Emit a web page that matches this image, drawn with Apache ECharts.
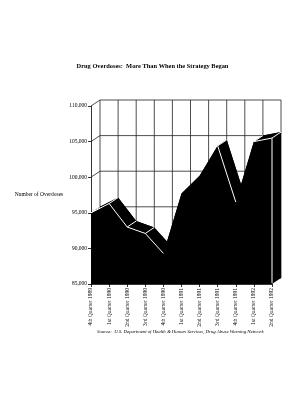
<!DOCTYPE html>
<html>
<head>
<meta charset="utf-8">
<script src="https://cdn.jsdelivr.net/npm/echarts@6/dist/echarts.min.js"></script>
<style>
  html, body { margin: 0; padding: 0; background: #fff; }
  #main { width: 305px; height: 400px; }
</style>
</head>
<body>
<div id="main"></div>
<script>
const categories = ['4th Quarter 1989', '1st Quarter 1990', '2nd Quarter 1990', '3rd Quarter 1990',
  '4th Quarter 1990', '1st Quarter 1991', '2nd Quarter 1991', '3rd Quarter 1991',
  '4th Quarter 1991', '1st Quarter 1992', '2nd Quarter 1992'];
const overdoses = [95000, 96300, 93000, 92100, 89300, 97700, 100200, 104400, 96500, 105000, 105500];
const yTicks = [85000, 90000, 95000, 100000, 105000, 110000];

const yMin = yTicks[0];
const yMax = yTicks[yTicks.length - 1];
const depth = [9, -6]; // fake 3d offset of the back wall, px
const font = 'Liberation Serif';

var myChart = echarts.init(document.getElementById('main'));

function shift(p) {
  return [p[0] + depth[0], p[1] + depth[1]];
}

// a ribbon face is visible when it faces up toward the viewer
function faceVisible(api, i) {
  const a = api.coord([i, overdoses[i]]);
  const b = api.coord([i + 1, overdoses[i + 1]]);
  const sx = b[0] - a[0], sy = b[1] - a[1];
  return sx * depth[1] - sy * depth[0] < 0;
}

function renderWalls(params, api) {
  const children = [];
  const last = categories.length - 1;
  const st = { stroke: '#222', lineWidth: 0.8 };
  yTicks.forEach(v => {
    const a = api.coord([0, v]);
    const b = api.coord([last, v]);
    const a2 = shift(a), b2 = shift(b);
    children.push({ type: 'line', shape: { x1: a[0], y1: a[1], x2: a2[0], y2: a2[1] }, style: st });
    children.push({ type: 'line', shape: { x1: a2[0], y1: a2[1], x2: b2[0], y2: b2[1] }, style: st });
  });
  categories.forEach((c, i) => {
    const a = shift(api.coord([i, yMin]));
    const b = shift(api.coord([i, yMax]));
    children.push({ type: 'line', shape: { x1: a[0], y1: a[1], x2: b[0], y2: b[1] }, style: st });
  });
  return { type: 'group', children };
}

function renderRibbon(params, api) {
  const children = [];
  const last = categories.length - 1;
  const back = [shift(api.coord([0, yMin]))];
  overdoses.forEach((v, i) => back.push(shift(api.coord([i, v]))));
  back.push(shift(api.coord([last, yMin])));
  children.push({ type: 'polygon', shape: { points: back }, style: { fill: '#000' } });
  for (let i = 0; i < last; i++) {
    const a = api.coord([i, overdoses[i]]);
    const b = api.coord([i + 1, overdoses[i + 1]]);
    children.push({ type: 'polygon', shape: { points: [a, b, shift(b), shift(a)] }, style: { fill: '#000' } });
  }
  const t = api.coord([last, overdoses[last]]);
  const f = api.coord([last, yMin]);
  children.push({ type: 'polygon', shape: { points: [t, shift(t), shift(f), f] }, style: { fill: '#000' } });
  return { type: 'group', children };
}

function renderEdges(params, api) {
  const children = [];
  const last = categories.length - 1;
  const st = { stroke: '#fff', lineWidth: 1 };
  for (let i = 0; i < last; i++) {
    if (!faceVisible(api, i)) continue;
    const a = api.coord([i, overdoses[i]]);
    const b = api.coord([i + 1, overdoses[i + 1]]);
    const a2 = shift(a);
    children.push({ type: 'line', shape: { x1: a[0], y1: a[1], x2: b[0], y2: b[1] }, style: st });
    children.push({ type: 'line', shape: { x1: a[0], y1: a[1], x2: a2[0], y2: a2[1] }, style: st });
  }
  const t = api.coord([last, overdoses[last]]);
  const t2 = shift(t);
  const f = api.coord([last, yMin]);
  children.push({ type: 'line', shape: { x1: t[0], y1: t[1], x2: t2[0], y2: t2[1] }, style: st });
  children.push({ type: 'line', shape: { x1: t[0], y1: t[1], x2: f[0], y2: f[1] - 1 }, style: st });
  return { type: 'group', children };
}

var option = {
  backgroundColor: '#fff',
  animation: false,
  title: {
    text: 'Drug Overdoses:  More Than When the Strategy Began',
    left: 'center',
    top: 58,
    textStyle: { fontFamily: font, fontSize: 6.4, fontWeight: 'bold', color: '#000' }
  },
  grid: { left: 91, right: 33, top: 106, bottom: 116 },
  xAxis: {
    type: 'category',
    data: categories,
    boundaryGap: false,
    axisLine: { lineStyle: { color: '#000', width: 0.8 } },
    axisTick: { show: true, length: 3, lineStyle: { color: '#000', width: 0.8 } },
    axisLabel: { rotate: 90, interval: 0, margin: 4, fontFamily: font, fontSize: 5.5, color: '#000' },
    splitLine: { show: false }
  },
  yAxis: {
    type: 'value',
    min: yMin,
    max: yMax,
    interval: 5000,
    name: 'Number of Overdoses',
    nameLocation: 'middle',
    nameRotate: 0,
    nameGap: 26,
    nameTextStyle: { fontFamily: font, fontSize: 5.5, color: '#000', align: 'right' },
    axisLine: { show: true, lineStyle: { color: '#000', width: 0.8 } },
    axisTick: { show: true, length: 3, lineStyle: { color: '#000', width: 0.8 } },
    axisLabel: {
      margin: 4, fontFamily: font, fontSize: 5.5, color: '#000',
      formatter: v => v.toLocaleString('en-US')
    },
    splitLine: { show: false }
  },
  graphic: [{
    type: 'text',
    left: 97,
    top: 329,
    style: {
      text: 'Source:  U.S. Department of Health & Human Services, Drug Abuse Warning Network',
      font: 'italic 4.8px "Liberation Serif"',
      fill: '#000'
    }
  }],
  series: [
    { type: 'custom', renderItem: renderWalls, data: [[0, yMin]], z: 1, silent: true },
    { type: 'custom', renderItem: renderRibbon, data: [[0, yMin]], z: 2, silent: true },
    {
      type: 'line',
      data: overdoses,
      symbol: 'none',
      lineStyle: { width: 0 },
      areaStyle: { color: '#000', opacity: 1 },
      z: 3
    },
    { type: 'custom', renderItem: renderEdges, data: [[0, yMin]], z: 4, silent: true }
  ]
};

myChart.setOption(option);
</script>
</body>
</html>
